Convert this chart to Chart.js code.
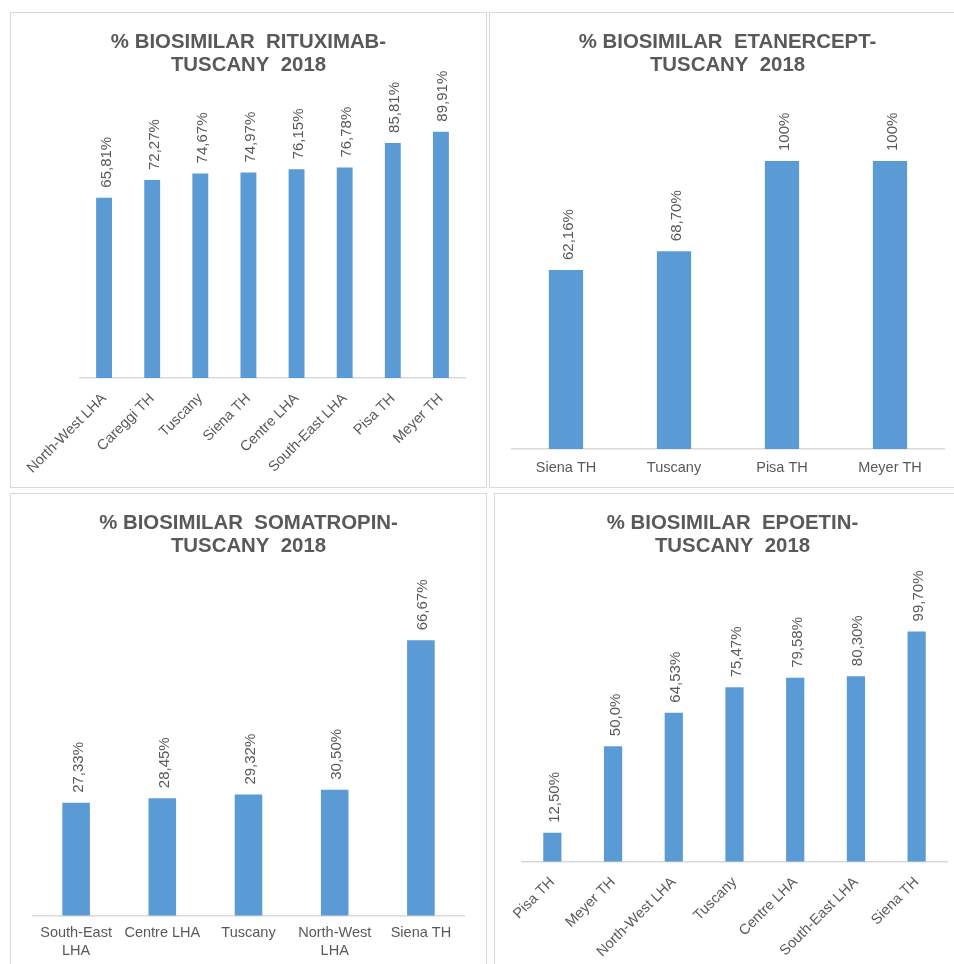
<!DOCTYPE html>
<html>
<head>
<meta charset="utf-8">
<script src="https://cdn.jsdelivr.net/npm/chart.js@4.4.1/dist/chart.umd.min.js"></script>
<style>
  html, body { margin: 0; padding: 0; overflow: hidden; background: #fff; }
  body { width: 954px; height: 964px; position: relative; }
  .panel { position: absolute; width: 477px; height: 476px; box-shadow: inset 0 0 0 1px #d9d9d9; }
  .panel canvas { position: absolute; left: 0; top: 0; }
</style>
</head>
<body>
<div class="panel" style="left:10px;top:12px"><canvas id="c1" width="477" height="476"></canvas></div>
<div class="panel" style="left:489px;top:12px"><canvas id="c2" width="477" height="476"></canvas></div>
<div class="panel" style="left:10px;top:493px"><canvas id="c3" width="477" height="476"></canvas></div>
<div class="panel" style="left:494px;top:493px"><canvas id="c4" width="477" height="476"></canvas></div>
<script>
var FONT = "'Liberation Sans', Arial, sans-serif";
var TEXT = '#595959';
var BAR = '#5B9BD5';

// rituximab
var rituxCats = ['North-West LHA', 'Careggi TH', 'Tuscany', 'Siena TH', 'Centre LHA', 'South-East LHA', 'Pisa TH', 'Meyer TH'];
var rituxVals = [65.81, 72.27, 74.67, 74.97, 76.15, 76.78, 85.81, 89.91];
var rituxText = ['65,81%', '72,27%', '74,67%', '74,97%', '76,15%', '76,78%', '85,81%', '89,91%'];

// etanercept
var etanCats = ['Siena TH', 'Tuscany', 'Pisa TH', 'Meyer TH'];
var etanVals = [62.16, 68.70, 100, 100];
var etanText = ['62,16%', '68,70%', '100%', '100%'];

// somatropin
var somaCats = [['South-East', 'LHA'], 'Centre LHA', 'Tuscany', ['North-West', 'LHA'], 'Siena TH'];
var somaVals = [27.33, 28.45, 29.32, 30.50, 66.67];
var somaText = ['27,33%', '28,45%', '29,32%', '30,50%', '66,67%'];

// epoetin
var epoCats = ['Pisa TH', 'Meyer TH', 'North-West LHA', 'Tuscany', 'Centre LHA', 'South-East LHA', 'Siena TH'];
var epoVals = [12.50, 50.0, 64.53, 75.47, 79.58, 80.30, 99.70];
var epoText = ['12,50%', '50,0%', '64,53%', '75,47%', '79,58%', '80,30%', '99,70%'];

// vertical value labels above the bars
var barLabels = {
  id: 'barLabels',
  afterDatasetsDraw: function(chart, args, opts) {
    var ctx = chart.ctx;
    var meta = chart.getDatasetMeta(0);
    ctx.save();
    ctx.fillStyle = TEXT;
    ctx.font = '15px ' + FONT;
    ctx.textAlign = 'left';
    ctx.textBaseline = 'alphabetic';
    meta.data.forEach(function(bar, i) {
      ctx.save();
      ctx.translate(bar.x, bar.y - 10);
      ctx.rotate(-Math.PI / 2);
      ctx.fillText(opts.texts[i], 0, 6.5);
      ctx.restore();
    });
    ctx.restore();
  }
};

// two-line title centred on the panel
var panelTitle = {
  id: 'panelTitle',
  afterDraw: function(chart, args, opts) {
    var ctx = chart.ctx;
    ctx.save();
    ctx.fillStyle = TEXT;
    ctx.font = 'bold 20.4px ' + FONT;
    ctx.textAlign = 'center';
    ctx.textBaseline = 'alphabetic';
    opts.lines.forEach(function(line, i) {
      ctx.fillText(line, chart.width / 2, 36 + i * 23.4);
    });
    ctx.restore();
  }
};

function makeChart(id, title, cats, vals, texts, o) {
  return new Chart(document.getElementById(id), {
    type: 'bar',
    data: {
      labels: cats,
      datasets: [{
        data: vals,
        backgroundColor: BAR,
        borderWidth: 0,
        barPercentage: 1,
        categoryPercentage: o.cat
      }]
    },
    options: {
      responsive: false,
      animation: false,
      devicePixelRatio: 1,
      layout: { padding: { top: o.top, left: o.left, right: o.right, bottom: 0 } },
      plugins: {
        legend: { display: false },
        tooltip: { enabled: false },
        title: { display: false },
        barLabels: { texts: texts },
        panelTitle: { lines: title }
      },
      scales: {
        x: {
          grid: { display: false, drawTicks: false },
          border: { display: true, color: '#d9d9d9', width: 1.5 },
          ticks: {
            autoSkip: false,
            color: TEXT,
            font: { family: FONT, size: 14.5 },
            padding: o.pad,
            minRotation: o.rot,
            maxRotation: o.rot
          },
          afterFit: function(scale) { scale.height = o.xh; }
        },
        y: { display: false, min: 0, max: o.max }
      }
    },
    plugins: [barLabels, panelTitle]
  });
}

makeChart('c1', ['% BIOSIMILAR  RITUXIMAB-', 'TUSCANY  2018'], rituxCats, rituxVals, rituxText,
  { top: 92, left: 70, right: 22, xh: 110, max: 100, cat: 0.33, rot: 45, pad: 12 });
makeChart('c2', ['% BIOSIMILAR  ETANERCEPT-', 'TUSCANY  2018'], etanCats, etanVals, etanText,
  { top: 91.4, left: 23, right: 22, xh: 39, max: 120, cat: 0.317, rot: 0, pad: 10 });
makeChart('c3', ['% BIOSIMILAR  SOMATROPIN-', 'TUSCANY  2018'], somaCats, somaVals, somaText,
  { top: 92.3, left: 23, right: 23, xh: 53.3, max: 80, cat: 0.32, rot: 0, pad: 9 });
makeChart('c4', ['% BIOSIMILAR  EPOETIN-', 'TUSCANY  2018'], epoCats, epoVals, epoText,
  { top: 91.5, left: 28, right: 24, xh: 107.3, max: 120, cat: 0.30, rot: 45, pad: 12 });
</script>
</body>
</html>
